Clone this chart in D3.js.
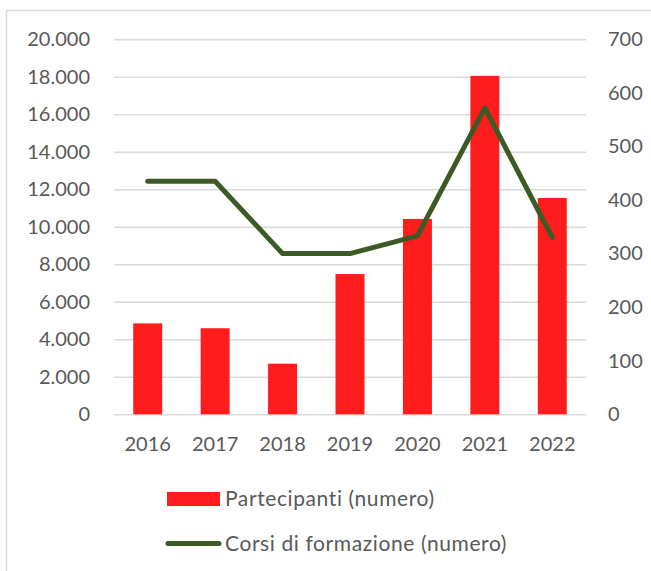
<!DOCTYPE html>
<html>
<head>
<meta charset="utf-8">
<script src="https://cdn.jsdelivr.net/npm/d3@7"></script>
<style>
  html, body { margin: 0; padding: 0; background: #fff; }
  svg text { font-family: Lato, "Open Sans", sans-serif; fill: #595959; }
</style>
</head>
<body>
<div id="chart"></div>
<script>
// values
var years = ["2016", "2017", "2018", "2019", "2020", "2021", "2022"];
var partecipanti = [4850, 4590, 2700, 7480, 10420, 18050, 11540];
var corsi = [435, 435, 300, 300, 333, 572, 330];
var leftTicks = [0, 2000, 4000, 6000, 8000, 10000, 12000, 14000, 16000, 18000, 20000];
var rightTicks = [0, 100, 200, 300, 400, 500, 600, 700];
var seriesNames = ["Partecipanti (numero)", "Corsi di formazione (numero)"];

var W = 651, H = 571;
var plot = { left: 114, right: 586, top: 39.3, bottom: 414.3 };
var red = "#ff1c1c", green = "#3b5a24", grid = "#d9d9d9";

var it = d3.formatLocale({ decimal: ",", thousands: ".", grouping: [3], currency: ["€", ""] });
var fmt = it.format(",");

var svg = d3.select("#chart").append("svg")
    .attr("width", W)
    .attr("height", H);

// chart frame (only left and top edges are inside the picture)
svg.append("rect")
    .attr("x", 6.5).attr("y", 10.5)
    .attr("width", 700).attr("height", 700)
    .attr("fill", "none")
    .attr("stroke", grid)
    .attr("stroke-width", 1.5);

var x = d3.scaleBand()
    .domain(years)
    .range([plot.left, plot.right])
    .paddingInner(0.57)
    .paddingOuter(0.285);

var yL = d3.scaleLinear().domain([0, 20000]).range([plot.bottom, plot.top]);
var yR = d3.scaleLinear().domain([0, 700]).range([plot.bottom, plot.top]);

// gridlines + left axis
var gL = svg.append("g")
    .attr("transform", "translate(" + plot.left + ",0)")
    .call(d3.axisLeft(yL).tickValues(leftTicks).tickFormat(fmt)
        .tickSize(-(plot.right - plot.left)).tickPadding(24));
gL.select(".domain").remove();
gL.selectAll("line").attr("stroke", grid).attr("stroke-width", 1.5);
gL.selectAll("text").attr("font-size", 20).style("fill", "#595959");

// right axis
var gR = svg.append("g")
    .attr("transform", "translate(" + plot.right + ",0)")
    .call(d3.axisRight(yR).tickValues(rightTicks).tickSize(0).tickPadding(22));
gR.select(".domain").remove();
gR.selectAll("text").attr("font-size", 20).style("fill", "#595959");

// bottom axis
var gB = svg.append("g")
    .attr("transform", "translate(0," + plot.bottom + ")")
    .call(d3.axisBottom(x).tickSize(0).tickPadding(23));
gB.select(".domain").remove();
gB.selectAll("text").attr("font-size", 20).style("fill", "#595959");

// bars
svg.append("g").selectAll("rect")
    .data(partecipanti)
    .join("rect")
    .attr("x", function(d, i) { return x(years[i]); })
    .attr("y", function(d) { return yL(d); })
    .attr("width", x.bandwidth())
    .attr("height", function(d) { return yL(0) - yL(d); })
    .attr("fill", red);

// line
var line = d3.line()
    .x(function(d, i) { return x(years[i]) + x.bandwidth() / 2; })
    .y(function(d) { return yR(d); });

svg.append("path")
    .datum(corsi)
    .attr("d", line)
    .attr("fill", "none")
    .attr("stroke", green)
    .attr("stroke-width", 5)
    .attr("stroke-linejoin", "round")
    .attr("stroke-linecap", "round");

// legend
var lg = svg.append("g");
lg.append("rect")
    .attr("x", 167).attr("y", 492)
    .attr("width", 53).attr("height", 14)
    .attr("fill", red);
lg.append("text")
    .attr("x", 225).attr("y", 499)
    .attr("dy", "0.35em")
    .attr("font-size", 21)
    .attr("letter-spacing", 0.6)
    .text(seriesNames[0]);
lg.append("line")
    .attr("x1", 168).attr("x2", 219)
    .attr("y1", 543.5).attr("y2", 543.5)
    .attr("stroke", green)
    .attr("stroke-width", 5)
    .attr("stroke-linecap", "round");
lg.append("text")
    .attr("x", 225).attr("y", 544)
    .attr("dy", "0.35em")
    .attr("font-size", 21)
    .attr("letter-spacing", 0.6)
    .text(seriesNames[1]);
</script>
</body>
</html>
